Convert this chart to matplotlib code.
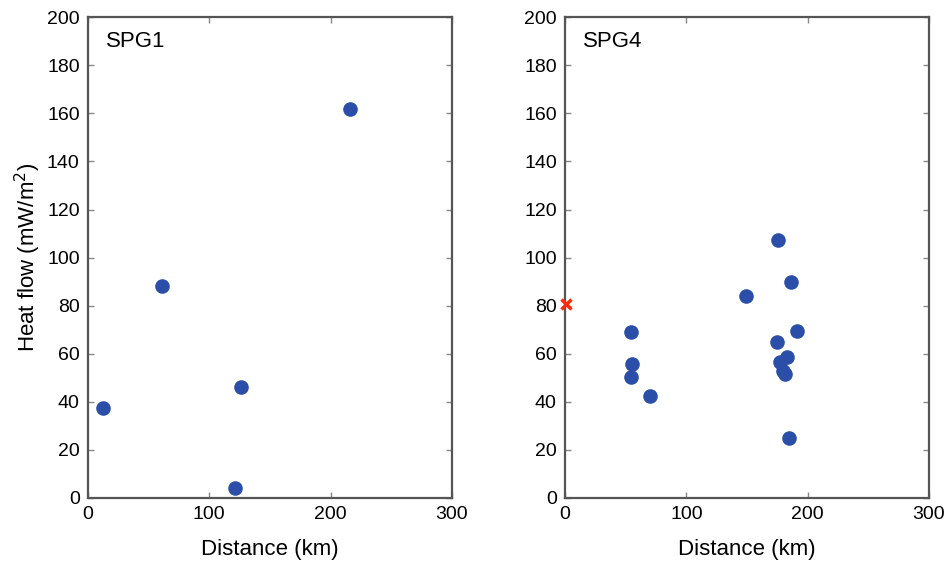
import matplotlib
matplotlib.use("Agg")
import matplotlib.pyplot as plt

plt.rcParams['font.family'] = ['Liberation Sans', 'DejaVu Sans']

# SPG1 data
spg1_dist = [12, 61, 121, 126, 216]
spg1_hf = [37.5, 88, 4, 46, 162]

# SPG4 data
spg4_dist = [54, 55.5, 54, 70, 149, 175.5, 186, 191, 174.5, 183, 177, 179.5, 181.5, 184.5]
spg4_hf = [69.2, 55.8, 50.2, 42.3, 84, 107.2, 90, 69.4, 65, 58.5, 56.5, 53, 51.5, 25]

# Reference point
ref_dist = [1]
ref_hf = [80.5]

panel_titles = ["SPG1", "SPG4"]
xticks = [0, 100, 200, 300]
yticks = list(range(0, 201, 20))

fig = plt.figure(figsize=(9.45, 5.69), dpi=100)
ax1 = fig.add_axes([0.0931, 0.1248, 0.385, 0.845])
ax2 = fig.add_axes([0.598, 0.1248, 0.385, 0.845])

dot_color = '#2b4fa8'
for ax, xs, ys, title in [(ax1, spg1_dist, spg1_hf, panel_titles[0]),
                          (ax2, spg4_dist, spg4_hf, panel_titles[1])]:
    ax.plot(xs, ys, 'o', color=dot_color, markersize=10.5, markeredgewidth=0, linestyle='none')
    ax.set_xlim(0, 300)
    ax.set_ylim(0, 200)
    ax.set_xticks(xticks)
    ax.set_yticks(yticks)
    ax.tick_params(direction='in', length=4, width=1, color='#888888',
                   top=True, right=True, labelsize=14, pad=6)
    for s in ax.spines.values():
        s.set_color('#555555')
        s.set_linewidth(1.6)
    ax.set_xlabel('Distance (km)', fontsize=16, labelpad=11)
    ax.text(0.05, 0.95, title, transform=ax.transAxes, fontsize=16,
            ha='left', va='center')

ax2.plot(ref_dist, ref_hf, 'x', color='#ff2a10', markersize=6.5, markeredgewidth=2.5,
         clip_on=False, linestyle='none', zorder=5)

ax1.set_ylabel('Heat flow (mW/m$^2$)', fontsize=16, labelpad=3)

fig.savefig('out.png', dpi=100)
